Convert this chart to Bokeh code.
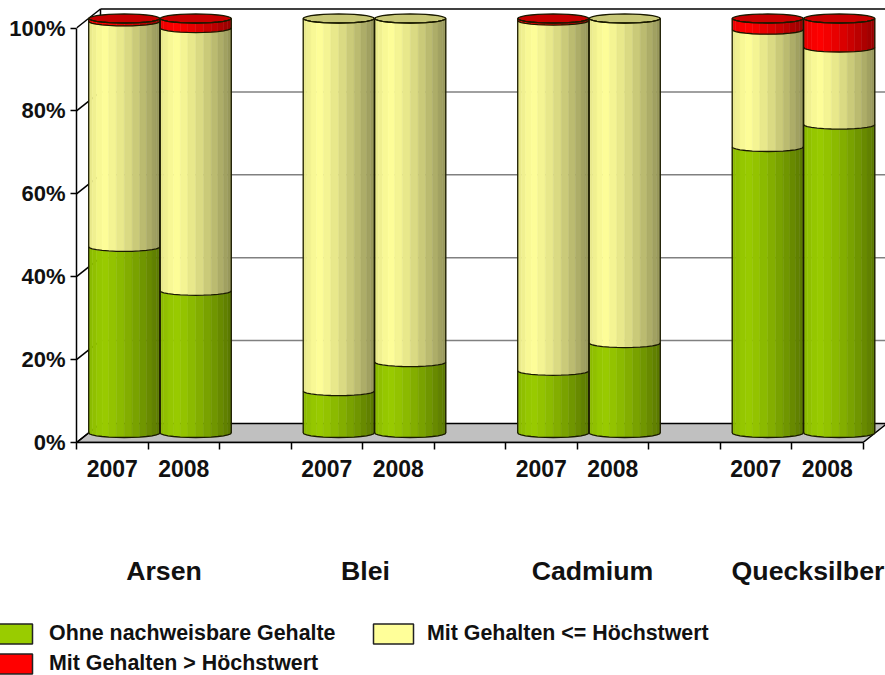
import math
from bokeh.embed import file_html
from bokeh.layouts import column
from bokeh.models import ColumnDataSource, FixedTicker, Label, Legend, LegendItem, Range1d
from bokeh.plotting import figure
from bokeh.resources import INLINE

# Stacked shares in percent per element and year
elements = ["Arsen", "Blei", "Cadmium", "Quecksilber"]
years = ["2007", "2008"]
none_detected = [44.9, 34.3, 10.1, 17.1, 15.0, 21.7, 69.0, 74.4]
below_limit = [54.4, 63.4, 89.9, 82.9, 84.5, 78.3, 28.3, 18.6]
above_limit = [0.7, 2.3, 0.0, 0.0, 0.5, 0.0, 2.7, 7.0]
series_names = ["Ohne nachweisbare Gehalte", "Mit Gehalten <= Höchstwert", "Mit Gehalten > Höchstwert"]
series_colors = ["#99CC00", "#FFFF99", "#FF0000"]
percent_ticks = [0, 20, 40, 60, 80, 100]
bar_slots = [0, 1, 3, 4, 6, 7, 9, 10]
element_label_x = [163.5, 365, 592, 807.5]

FONT = "Liberation Sans"
SLOT_PX = 71.5
PCT_PX = 4.145
DEPTH_X = 24 / SLOT_PX
DEPTH_Y = 19 / PCT_PX
RX = 0.497
RY = 4.5 / PCT_PX
FACETS = 14
FRAME_LEFT = 76
FRAME_BOTTOM = 442
CHART_HEIGHT = 490


def shade(color, factor):
    rgb = [int(color[i:i + 2], 16) for i in (1, 3, 5)]
    return "#%02X%02X%02X" % tuple(min(255, round(c * factor)) for c in rgb)


def strip_factor(t):
    if t < 0.2:
        return 0.90 + 0.10 * t / 0.2
    return 1.0 - 0.42 * ((t - 0.2) / 0.8) ** 1.3


p = figure(width=885, height=CHART_HEIGHT, output_backend="svg", toolbar_location=None,
           x_range=Range1d(0, 809 / SLOT_PX), y_range=Range1d(0, FRAME_BOTTOM / PCT_PX),
           min_border_left=FRAME_LEFT, min_border_right=0, min_border_top=0,
           min_border_bottom=CHART_HEIGHT - FRAME_BOTTOM)
p.outline_line_color = None
p.grid.visible = False
p.frame_align = False

# Floor of the box
p.patch([0, DEPTH_X, 11 + DEPTH_X, 11], [0, DEPTH_Y, DEPTH_Y, 0],
        fill_color="#C0C0C0", line_color="black", line_width=1.5)

# Back wall lines and the side diagonals
inner = percent_ticks[1:-1]
p.segment(x0=[DEPTH_X] * len(inner), y0=[v + DEPTH_Y for v in inner],
          x1=[11 + DEPTH_X] * len(inner), y1=[v + DEPTH_Y for v in inner],
          line_color="#808080", line_width=1.5)
p.segment(x0=[DEPTH_X], y0=[100 + DEPTH_Y], x1=[11 + DEPTH_X], y1=[100 + DEPTH_Y],
          line_color="black", line_width=1.5)
p.segment(x0=[DEPTH_X], y0=[DEPTH_Y], x1=[DEPTH_X], y1=[100 + DEPTH_Y],
          line_color="black", line_width=1.5)
p.segment(x0=[0] * len(percent_ticks), y0=percent_ticks,
          x1=[DEPTH_X] * len(percent_ticks), y1=[v + DEPTH_Y for v in percent_ticks],
          line_color="black", line_width=1.5)

# Cylinders, one faceted column per element and year
strip_xs, strip_ys, strip_colors = [], [], []
edge_xs, edge_ys = [], []
cap_xs, cap_ys, cap_colors = [], [], []
angles = [math.pi * (1 - i / FACETS) for i in range(FACETS + 1)]
for i, slot in enumerate(bar_slots):
    cx = slot + 0.5 + DEPTH_X / 2
    cy = DEPTH_Y / 2
    values = [none_detected[i], below_limit[i], above_limit[i]]
    base = 0.0
    last_color = None
    for value, color in zip(values, series_colors):
        if value <= 0:
            continue
        top = base + value
        for k in range(FACETS):
            a0, a1 = angles[k], angles[k + 1]
            x0, x1 = cx + RX * math.cos(a0), cx + RX * math.cos(a1)
            f0, f1 = RY * math.sin(a0), RY * math.sin(a1)
            strip_xs.append([x0, x1, x1, x0])
            strip_ys.append([cy + base - f0, cy + base - f1, cy + top - f1, cy + top - f0])
            t = (0.5 * (x0 + x1) - (cx - RX)) / (2 * RX)
            strip_colors.append(shade(color, strip_factor(t)))
        edge_xs.append([cx + RX * math.cos(a) for a in angles])
        edge_ys.append([cy + top - RY * math.sin(a) for a in angles])
        base = top
        last_color = color
    edge_xs.append([cx + RX * math.cos(a) for a in angles])
    edge_ys.append([cy - RY * math.sin(a) for a in angles])
    edge_xs += [[cx - RX, cx - RX], [cx + RX, cx + RX]]
    edge_ys += [[cy, cy + base], [cy, cy + base]]
    ring = [2 * math.pi * j / (2 * FACETS) for j in range(2 * FACETS)]
    cap_xs.append([cx + RX * math.cos(a) for a in ring])
    cap_ys.append([cy + base + RY * math.sin(a) for a in ring])
    cap_colors.append(shade(last_color, 0.78))

strips = ColumnDataSource(dict(xs=strip_xs, ys=strip_ys, color=strip_colors))
p.patches("xs", "ys", source=strips, fill_color="color", line_color="color", line_width=0.5)
caps = ColumnDataSource(dict(xs=cap_xs, ys=cap_ys, color=cap_colors))
p.patches("xs", "ys", source=caps, fill_color="color", line_color="#1A1A00", line_width=1.3)
p.multi_line(edge_xs, edge_ys, line_color="#1A1A00", line_width=1.3)

# Real axes: percent scale at the left, years centred under their slots
yaxis = p.yaxis[0]
yaxis.ticker = FixedTicker(ticks=percent_ticks)
yaxis.major_label_overrides = {v: f"{v}%" for v in percent_ticks}
yaxis.bounds = (0, 100)
yaxis.major_tick_in = 0
yaxis.major_tick_out = 6
yaxis.minor_tick_line_color = None
yaxis.major_tick_line_color = "black"
yaxis.major_tick_line_width = 1.5
yaxis.axis_line_width = 1.5
yaxis.major_label_standoff = 5
yaxis.major_label_text_font = FONT
yaxis.major_label_text_font_style = "bold"
yaxis.major_label_text_font_size = "22px"
yaxis.major_label_text_color = "#111111"

centres = [s + 0.5 for s in bar_slots]
boundaries = list(range(0, 12))
xaxis = p.xaxis[0]
xaxis.ticker = FixedTicker(ticks=centres, minor_ticks=boundaries)
xaxis.major_label_overrides = {c: years[i % 2] for i, c in enumerate(centres)}
xaxis.bounds = (0, 11)
xaxis.major_tick_in = 0
xaxis.major_tick_out = 0
xaxis.minor_tick_in = 0
xaxis.minor_tick_out = 7
xaxis.minor_tick_line_color = "black"
xaxis.minor_tick_line_width = 1.5
xaxis.axis_line_width = 1.5
xaxis.major_label_standoff = 10
xaxis.major_label_text_font = FONT
xaxis.major_label_text_font_style = "bold"
xaxis.major_label_text_font_size = "23px"
xaxis.major_label_text_color = "#111111"

# Lower strip: element names and the legend
LOWER_HEIGHT = 675 - CHART_HEIGHT
q = figure(width=885, height=LOWER_HEIGHT, output_backend="svg", toolbar_location=None,
           x_range=Range1d(0, 885), y_range=Range1d(0, LOWER_HEIGHT),
           x_axis_location=None, y_axis_location=None,
           min_border_left=0, min_border_right=0, min_border_top=0, min_border_bottom=0)
q.outline_line_color = None
q.grid.visible = False
q.frame_align = False

for name, px in zip(elements, element_label_x):
    q.add_layout(Label(x=px, y=675 - 570, x_units="screen", y_units="screen", text=name,
                       text_align="center", text_baseline="middle", text_font=FONT,
                       text_font_style="bold", text_font_size="26.7px", text_color="#111111"))

# Legend swatches come from off-range quads in the series colours
swatches = [q.quad(left=[-20], right=[-10], bottom=[-20], top=[-10], fill_color=c,
                   line_color="#222222", line_width=1.5) for c in series_colors]


def make_legend(indices, location, standoff):
    items = [LegendItem(label=series_names[i], renderers=[swatches[i]]) for i in indices]
    legend = Legend(items=items, location=location, orientation="vertical", padding=0, margin=0,
                    spacing=5, glyph_width=50, glyph_height=25, label_height=25,
                    label_standoff=standoff, background_fill_alpha=0, border_line_color=None,
                    label_text_font=FONT, label_text_font_style="bold",
                    label_text_font_size="21.4px", label_text_color="#111111")
    q.add_layout(legend)


make_legend([0, 2], (-13, -1), 12)
make_legend([1], (368, 29), 9)

page = column(p, q, spacing=0)
open("out.html", "w").write(file_html(page, INLINE))
